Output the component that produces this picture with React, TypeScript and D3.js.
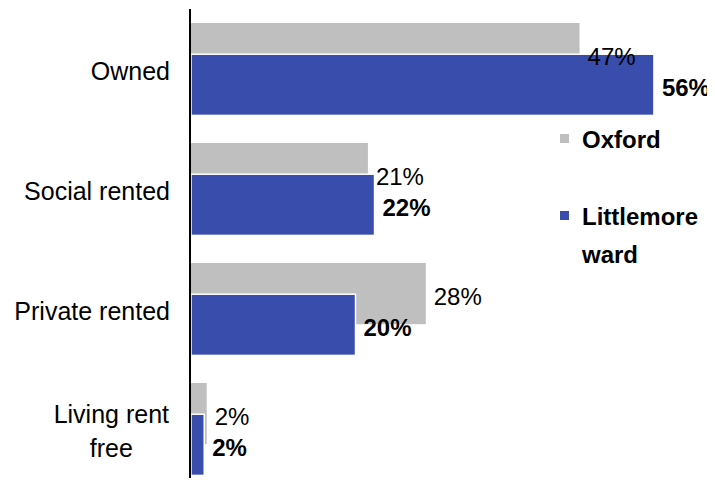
import React, { useEffect, useRef } from 'react';
import * as d3 from 'd3';

// Tenure categories (label lines for wrapping)
const categories = ['Owned', 'Social rented', 'Private rented', 'Living rent free'];
const categoryLines = [['Owned'], ['Social rented'], ['Private rented'], ['Living rent', 'free']];
const seriesNames = ['Oxford', 'Littlemore ward'];
const oxfordValues = [47, 21.4, 28.4, 1.9];
const littlemoreValues = [56, 22.2, 19.9, 1.6];
const seriesColors = ['#bfbfbf', '#394dad'];

const App = () => {
  const ref = useRef<SVGSVGElement | null>(null);

  useEffect(() => {
    const width = 715;
    const height = 486;
    const svg = d3.select(ref.current);
    svg.selectAll('*').remove();
    svg.attr('width', width).attr('height', height);

    const font = '"Liberation Sans", Arial, sans-serif';

    const x = d3.scaleLinear().domain([0, 60]).range([191, 687]);
    const y = d3.scaleBand<string>().domain(categories).range([23, 503]);
    const barH = y.bandwidth() * 0.51;
    const offset = barH * 0.51;

    const values = [oxfordValues, littlemoreValues];

    // bars, Oxford drawn first then Littlemore on top
    values.forEach((vals, si) => {
      svg.append('g')
        .selectAll('rect')
        .data(categories)
        .enter()
        .append('rect')
        .attr('x', x(0))
        .attr('y', c => (y(c) as number) + si * offset)
        .attr('width', (c, i) => x(vals[i]) - x(0))
        .attr('height', barH)
        .attr('fill', seriesColors[si])
        .attr('stroke', si === 1 ? '#fff' : 'none')
        .attr('stroke-width', 1.5);
    });

    // value labels
    values.forEach((vals, si) => {
      svg.append('g')
        .selectAll('text')
        .data(categories)
        .enter()
        .append('text')
        .attr('x', (c, i) => x(vals[i]) + 8)
        .attr('y', c => (y(c) as number) + si * offset + barH / 2 + 3)
        .attr('dominant-baseline', 'central')
        .attr('font-family', font)
        .attr('font-size', 24)
        .attr('font-weight', si === 1 ? 'bold' : 'normal')
        .attr('fill', '#000')
        .text((c, i) => `${Math.round(vals[i])}%`);
    });

    // category labels (wrapped labels are centred on their widest line)
    const labels = svg.append('g');
    categories.forEach((c, i) => {
      const lines = categoryLines[i];
      const cy = (y(c) as number) + (barH + offset) / 2 + 2;
      const lh = 34;
      const t = labels.append('text')
        .attr('text-anchor', lines.length > 1 ? 'middle' : 'end')
        .attr('font-family', font)
        .attr('font-size', 25)
        .attr('fill', '#000');
      const spans = lines.map((ln, li) =>
        t.append('tspan')
          .attr('x', 170)
          .attr('y', cy + (li - (lines.length - 1) / 2) * lh)
          .attr('dominant-baseline', 'central')
          .text(ln)
      );
      if (lines.length > 1) {
        const w = d3.max(spans, s => (s.node() as SVGTSpanElement).getComputedTextLength()) || 0;
        spans.forEach(s => s.attr('x', 169 - w / 2));
      }
    });

    // vertical axis line
    svg.append('line')
      .attr('x1', 190).attr('x2', 190)
      .attr('y1', 9).attr('y2', height)
      .attr('stroke', '#000')
      .attr('stroke-width', 2);

    // legend
    const legend = svg.append('g');
    const legendRows = [[seriesNames[0]], ['Littlemore', 'ward']];
    const legendY = [139, 216];
    legendRows.forEach((rows, i) => {
      legend.append('rect')
        .attr('x', 560).attr('y', legendY[i] - 5)
        .attr('width', 9).attr('height', 9)
        .attr('fill', seriesColors[i]);
      const t = legend.append('text')
        .attr('font-family', font)
        .attr('font-size', 24)
        .attr('font-weight', 'bold')
        .attr('fill', '#000');
      rows.forEach((r, ri) => {
        t.append('tspan')
          .attr('x', 582)
          .attr('y', legendY[i] + ri * 38)
          .attr('dominant-baseline', 'central')
          .text(r);
      });
    });
  }, []);

  return (
    <div style={{ margin: -8 }}>
      <svg ref={ref} style={{ display: 'block' }} />
    </div>
  );
};

export default App;
